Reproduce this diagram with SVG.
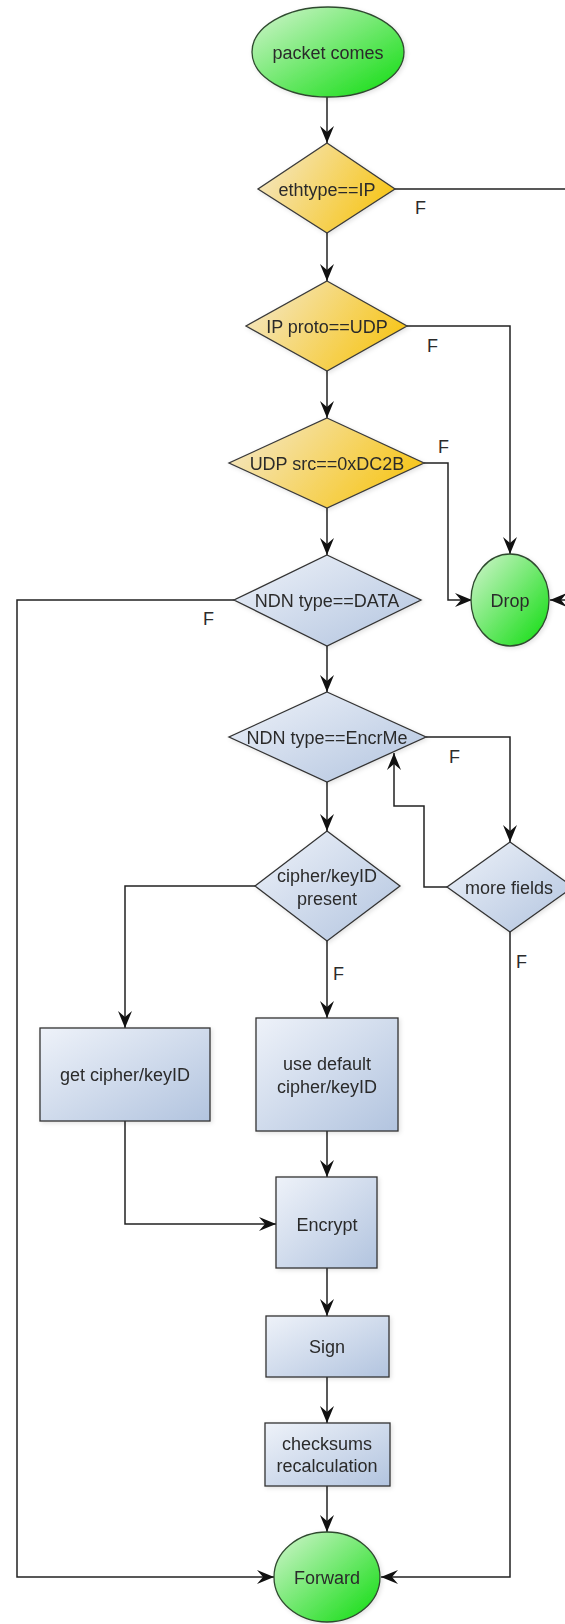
<svg xmlns="http://www.w3.org/2000/svg" width="565" height="1624" viewBox="0 0 565 1624">
<defs>
<style>
text{font-family:"Liberation Sans",Arial,sans-serif;font-size:18px;fill:#2b2b2b;text-anchor:middle}
.lbl{text-anchor:start}
.green{fill:url(#gGreen);stroke:#2f4a2f;stroke-width:1.3}
.yellow{fill:url(#gYellow);stroke:#3a3a3a;stroke-width:1.3}
.blue{fill:url(#gBlue);stroke:#333;stroke-width:1.3}
.edge{fill:none;stroke:#222;stroke-width:1.5;marker-end:url(#arr)}
.node{filter:url(#sh)}
</style>
<linearGradient id="gGreen" x1="0" y1="0" x2="1" y2="1">
<stop offset="0" stop-color="#d4f5d0"/>
<stop offset="1" stop-color="#0cdc0c"/>
</linearGradient>
<linearGradient id="gYellow" x1="0" y1="0.3" x2="1" y2="0.7">
<stop offset="0" stop-color="#f4e6c0"/>
<stop offset="1" stop-color="#f7c412"/>
</linearGradient>
<linearGradient id="gBlue" x1="0" y1="0" x2="1" y2="1">
<stop offset="0" stop-color="#eef2f9"/>
<stop offset="1" stop-color="#b2c4df"/>
</linearGradient>
<filter id="sh" x="-10%" y="-10%" width="125%" height="125%">
<feDropShadow dx="1.5" dy="1.5" stdDeviation="2" flood-color="#000" flood-opacity="0.12"/>
</filter>
<marker id="arr" markerUnits="userSpaceOnUse" viewBox="-18 -8 19 16" refX="0" refY="0" markerWidth="19" markerHeight="16" orient="auto">
<path d="M0,0 L-17,-7 L-11,0 L-17,7 Z" fill="#111"/>
</marker>
</defs>
<rect width="565" height="1624" fill="#fff"/>

<g id="connectors">
<path class="edge" d="M327,97 V143"/>
<path class="edge" d="M327,233 V281"/>
<path class="edge" d="M395,189 H575 V600 H550"/>
<path class="edge" d="M327,371 V418"/>
<path class="edge" d="M407,326 H510 V554"/>
<path class="edge" d="M327,508 V555"/>
<path class="edge" d="M424,463 H448 V600 H472"/>
<path class="edge" d="M327,646 V692"/>
<path class="edge" d="M234,600 H17 V1577 H274"/>
<path class="edge" d="M426,737 H510 V842"/>
<path class="edge" d="M327,782 V831"/>
<path class="edge" d="M447,887 H424 V806 H394 V753"/>
<path class="edge" d="M510,932 V1577 H381"/>
<path class="edge" d="M255,886 H125 V1028"/>
<path class="edge" d="M327,941 V1018"/>
<path class="edge" d="M327,1131 V1177"/>
<path class="edge" d="M125,1121 V1224 H276"/>
<path class="edge" d="M327,1268 V1316"/>
<path class="edge" d="M327,1377 V1423"/>
<path class="edge" d="M327,1486 V1532"/>
<text class="lbl" x="415" y="214">F</text>
<text class="lbl" x="427" y="352">F</text>
<text class="lbl" x="438" y="453">F</text>
<text class="lbl" x="203" y="625">F</text>
<text class="lbl" x="449" y="763">F</text>
<text class="lbl" x="333" y="980">F</text>
<text class="lbl" x="516" y="968">F</text>
</g>

<g id="packet-comes" class="node">
<ellipse class="green" cx="328" cy="52" rx="76" ry="45"/>
<text x="328" y="59">packet comes</text>
</g>
<g id="ethtype" class="node">
<polygon class="yellow" points="327,143 395,189 327,233 258,189"/>
<text x="327" y="196">ethtype==IP</text>
</g>
<g id="ip-proto" class="node">
<polygon class="yellow" points="327,281 407,326 327,371 246,326"/>
<text x="327" y="333">IP proto==UDP</text>
</g>
<g id="udp-src" class="node">
<polygon class="yellow" points="327,418 424,463 327,508 229,463"/>
<text x="327" y="470">UDP src==0xDC2B</text>
</g>
<g id="drop" class="node">
<ellipse class="green" cx="510" cy="600" rx="39" ry="46"/>
<text x="510" y="607">Drop</text>
</g>
<g id="ndn-data" class="node">
<polygon class="blue" points="327,555 421,600 327,646 234,600"/>
<text x="327" y="607">NDN type==DATA</text>
</g>
<g id="ndn-encrme" class="node">
<polygon class="blue" points="327,692 426,737 327,782 229,737"/>
<text x="327" y="744">NDN type==EncrMe</text>
</g>
<g id="cipher-present" class="node">
<polygon class="blue" points="327,831 400,886 327,941 255,886"/>
<text x="327" y="882">cipher/keyID</text>
<text x="327" y="905">present</text>
</g>
<g id="more-fields" class="node">
<polygon class="blue" points="510,842 573,887 510,932 447,887"/>
<text x="509" y="894">more fields</text>
</g>
<g id="get-cipher" class="node">
<rect class="blue" x="40" y="1028" width="170" height="93"/>
<text x="125" y="1081">get cipher/keyID</text>
</g>
<g id="use-default" class="node">
<rect class="blue" x="256" y="1018" width="142" height="113"/>
<text x="327" y="1070">use default</text>
<text x="327" y="1093">cipher/keyID</text>
</g>
<g id="encrypt" class="node">
<rect class="blue" x="276" y="1177" width="101" height="91"/>
<text x="327" y="1231">Encrypt</text>
</g>
<g id="sign" class="node">
<rect class="blue" x="266" y="1316" width="123" height="61"/>
<text x="327" y="1353">Sign</text>
</g>
<g id="checksums" class="node">
<rect class="blue" x="265" y="1423" width="125" height="63"/>
<text x="327" y="1450">checksums</text>
<text x="327" y="1472">recalculation</text>
</g>
<g id="forward" class="node">
<ellipse class="green" cx="327" cy="1577" rx="53" ry="45"/>
<text x="327" y="1584">Forward</text>
</g>
</svg>
